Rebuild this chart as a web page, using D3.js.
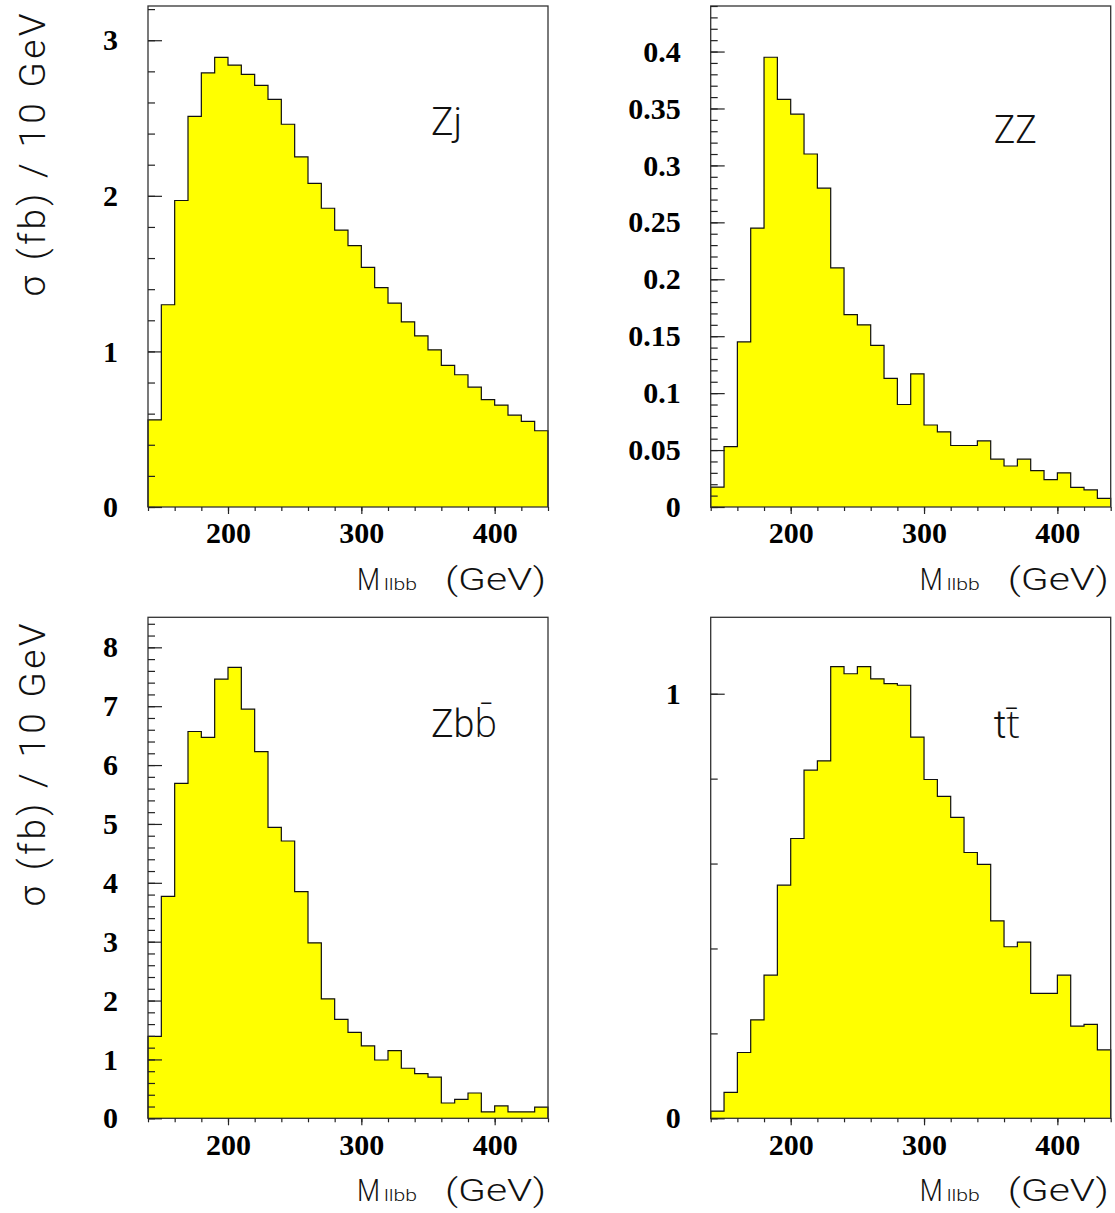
<!DOCTYPE html>
<html>
<head>
<meta charset="utf-8">
<script src="https://cdn.jsdelivr.net/npm/d3@7"></script>
<style>
  body { margin: 0; background: #fff; }
  svg { display: block; }
</style>
</head>
<body>
<div id="chart"></div>
<script>
// bin edges in GeV (10 GeV bins)
var binEdges = [140, 150, 160, 170, 180, 190, 200, 210, 220, 230, 240, 250, 260, 270, 280, 290,
                300, 310, 320, 330, 340, 350, 360, 370, 380, 390, 400, 410, 420, 430, 440];

// sigma (fb) / 10 GeV per bin
var zjValues = [0.56, 1.30, 1.97, 2.51, 2.79, 2.89, 2.84, 2.78, 2.71, 2.62,
                2.46, 2.25, 2.08, 1.92, 1.78, 1.68, 1.54, 1.41, 1.31, 1.19,
                1.10, 1.01, 0.91, 0.85, 0.77, 0.69, 0.655, 0.59, 0.55, 0.49];
var zzValues = [0.0175, 0.053, 0.145, 0.245, 0.395, 0.358, 0.345, 0.310, 0.280, 0.210,
                0.169, 0.160, 0.142, 0.113, 0.090, 0.117, 0.072, 0.066, 0.054, 0.054,
                0.058, 0.042, 0.036, 0.042, 0.032, 0.024, 0.030, 0.0173, 0.015, 0.0076];
var zbbValues = [1.39, 3.77, 5.69, 6.57, 6.47, 7.46, 7.66, 6.95, 6.23, 4.94,
                 4.71, 3.85, 2.98, 2.03, 1.68, 1.46, 1.23, 0.99, 1.15, 0.85,
                 0.76, 0.70, 0.26, 0.32, 0.43, 0.11, 0.21, 0.11, 0.11, 0.19];
var ttValues = [0.017, 0.061, 0.155, 0.232, 0.337, 0.549, 0.659, 0.820, 0.842, 1.064,
                1.047, 1.064, 1.035, 1.024, 1.020, 0.898, 0.798, 0.758, 0.709, 0.626,
                0.598, 0.465, 0.404, 0.415, 0.294, 0.294, 0.337, 0.217, 0.221, 0.161];

var xTickLabels = [200, 300, 400];
var zjTicks = [0, 1, 2, 3];
var zzTicks = [0, 0.05, 0.1, 0.15, 0.2, 0.25, 0.3, 0.35, 0.4];
var zbbTicks = [0, 1, 2, 3, 4, 5, 6, 7, 8];
var ttTicks = [0, 1];
var panelNames = ["Zj", "ZZ", "Zbb\u0304", "tt\u0304"];

var W = 1115, H = 1213;
var svg = d3.select("#chart").append("svg")
    .attr("width", W).attr("height", H);
svg.append("rect").attr("width", W).attr("height", H).attr("fill", "#fff");

var panels = [
  { values: zjValues,  ticks: zjTicks,  minorStep: 0.2,  ymax: 3.22, fmt: d3.format("d"),
    left: 148,   top: 6,     name: panelNames[0], nameY: 129, nameW: 31 },
  { values: zzValues,  ticks: zzTicks,  minorStep: 0.01, ymax: 0.44, fmt: function (d) { return d === 0 ? "0" : String(+d.toFixed(2)); },
    left: 710.7, top: 6,     name: panelNames[1], nameY: 137, nameW: 43 },
  { values: zbbValues, ticks: zbbTicks, minorStep: 0.2,  ymax: 8.51, fmt: d3.format("d"),
    left: 148,   top: 617.3, name: panelNames[2], nameY: 120, nameW: 66 },
  { values: ttValues,  ticks: ttTicks,  minorStep: 0.2,  ymax: 1.18, fmt: d3.format("d"),
    left: 710.7, top: 617.3, name: panelNames[3], nameY: 121, nameW: 26 }
];
var pw = 400, ph = 501;

panels.forEach(function (p) {
  var g = svg.append("g").attr("transform", "translate(" + p.left + "," + p.top + ")");
  var x = d3.scaleLinear().domain([140, 440]).range([0, pw]);
  var y = d3.scaleLinear().domain([0, p.ymax]).range([ph, 0]);

  var pts = binEdges.map(function (e, i) {
    return { x: e, v: p.values[Math.min(i, p.values.length - 1)] };
  });

  var area = d3.area().curve(d3.curveStepAfter)
      .x(function (d) { return x(d.x); })
      .y0(y(0))
      .y1(function (d) { return y(d.v); });
  g.append("path").datum(pts).attr("d", area).attr("fill", "#ffff00");

  var outline = [{ x: 140, v: 0 }].concat(pts, [{ x: 440, v: 0 }]);
  var line = d3.line().curve(d3.curveStepAfter)
      .x(function (d) { return x(d.x); })
      .y(function (d) { return y(d.v); });
  g.append("path").datum(outline).attr("d", line)
      .attr("fill", "none").attr("stroke", "#111").attr("stroke-width", 1.2);

  // frame
  g.append("rect").attr("width", pw).attr("height", ph)
      .attr("fill", "none").attr("stroke", "#333").attr("stroke-width", 1.3);

  // y ticks inside
  var minors = d3.range(0, p.ymax + 1e-9, p.minorStep);
  g.append("g").attr("class", "ax")
      .call(d3.axisRight(y).tickValues(minors).tickSize(7).tickFormat(""));
  g.append("g").attr("class", "ax")
      .call(d3.axisRight(y).tickValues(p.ticks).tickSize(14).tickFormat(""));
  g.append("g").attr("class", "lab")
      .call(d3.axisLeft(y).tickValues(p.ticks).tickSize(0).tickPadding(30).tickFormat(p.fmt));

  // x ticks outside
  g.append("g").attr("class", "ax").attr("transform", "translate(0," + ph + ")")
      .call(d3.axisBottom(x).tickValues(d3.range(140, 441, 20)).tickSize(4).tickFormat(""));
  g.append("g").attr("class", "ax").attr("transform", "translate(0," + ph + ")")
      .call(d3.axisBottom(x).tickValues(xTickLabels).tickSize(7).tickFormat(""));
  g.append("g").attr("class", "lab").attr("transform", "translate(0," + ph + ")")
      .call(d3.axisBottom(x).tickValues(xTickLabels).tickSize(0).tickPadding(15).tickFormat(d3.format("d")));

  // x title: M_llbb (GeV)
  var ty = ph + 83;
  g.append("text").attr("class", "ttl").attr("x", 209).attr("y", ty)
      .attr("font-size", 32).attr("textLength", 23).attr("lengthAdjust", "spacingAndGlyphs").text("M");
  g.append("text").attr("class", "ttl").attr("x", 236).attr("y", ty)
      .attr("font-size", 17).attr("textLength", 33).attr("lengthAdjust", "spacingAndGlyphs").text("llbb");
  g.append("text").attr("class", "ttl").attr("x", 297).attr("y", ty)
      .attr("font-size", 32).attr("textLength", 101).attr("lengthAdjust", "spacingAndGlyphs").text("(GeV)");

  // process label
  g.append("text").attr("class", "ttl")
      .attr("x", 283).attr("y", p.nameY)
      .attr("font-size", 39)
      .attr("textLength", p.nameW).attr("lengthAdjust", "spacingAndGlyphs")
      .text(p.name);
});

// y titles
[155, 765].forEach(function (cy) {
  svg.append("text").attr("class", "ttl")
      .attr("transform", "translate(45," + cy + ") rotate(-90)")
      .attr("text-anchor", "middle")
      .attr("font-size", 37)
      .attr("textLength", 283).attr("lengthAdjust", "spacing")
      .text("\u03c3 (fb) / 10 GeV");
});

svg.selectAll(".ax path").remove();
svg.selectAll(".lab path").remove();
svg.selectAll(".ax line").attr("stroke", "#222").attr("stroke-width", 1.2);
svg.selectAll(".lab text")
    .attr("font-family", "'Liberation Serif', 'Times New Roman', serif")
    .attr("font-weight", "bold").attr("font-size", 30).attr("fill", "#000");
svg.selectAll(".ttl")
    .attr("font-family", "Roboto, 'Open Sans', 'Liberation Sans', sans-serif")
    .attr("font-weight", 300).attr("fill", "#111");
</script>
</body>
</html>
